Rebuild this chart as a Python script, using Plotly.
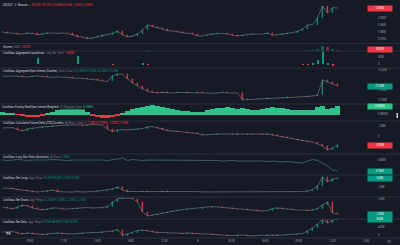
import plotly.graph_objects as go
from plotly.subplots import make_subplots

W, H = 400, 245
BG = "#161a25"
SEP = "#2a2e39"
TXT = "#d1d4dc"
GREY = "#787b86"
UP = "#089981"
DN = "#f23645"
LINE = "#8f939c"
FUND_UP = "#2bc48a"
LSR_COL = "#4d8f8a"
FONT = "Roboto"
FS = 2.6

# ---------------- data ----------------
time_labels = ["09:00", "12:00", "15:00", "18:00", "21:00", "8", "03:00", "06:00", "09:00", "12:00", "15:00"]
time_tick_pos = [5.5, 12.22, 18.94, 25.66, 32.38, 39.1, 45.82, 52.54, 59.26, 65.98, 72.7]

price_open0 = 0.5797
price_close = [
    0.5800, 0.5793, 0.5793, 0.5786, 0.5786, 0.5793, 0.5790, 0.5782, 0.5786, 0.5793,
    0.5793, 0.5790, 0.5793, 0.5790, 0.5779, 0.5768, 0.5762, 0.5754, 0.5758, 0.5768,
    0.5776, 0.5782, 0.5790, 0.5807, 0.5779, 0.5765, 0.5772, 0.5786, 0.5814, 0.5849,
    0.5838, 0.5828, 0.5818, 0.5810, 0.5807, 0.5800, 0.5793, 0.5790, 0.5786, 0.5772,
    0.5772, 0.5782, 0.5786, 0.5790, 0.5790, 0.5786, 0.5776, 0.5772, 0.5779, 0.5782,
    0.5786, 0.5786, 0.5786, 0.5793, 0.5776, 0.5782, 0.5786, 0.5793, 0.5796, 0.5804,
    0.5821, 0.5849, 0.5852, 0.5898, 0.5982, 0.5933, 0.5971, 0.5968]

volume_m = [
    0.12, 0.08, 0.06, 0.07, 0.05, 0.06, 0.05, 0.09, 0.06, 0.05,
    0.05, 0.04, 0.05, 0.04, 0.07, 0.09, 0.08, 0.10, 0.07, 0.08,
    0.06, 0.07, 0.09, 0.15, 0.12, 0.10, 0.08, 0.07, 0.13, 0.20,
    0.14, 0.10, 0.08, 0.06, 0.05, 0.05, 0.04, 0.05, 0.05, 0.07,
    0.06, 0.06, 0.05, 0.04, 0.05, 0.05, 0.06, 0.06, 0.05, 0.05,
    0.04, 0.05, 0.05, 0.05, 0.07, 0.05, 0.05, 0.06, 0.06, 0.08,
    0.12, 0.25, 0.22, 0.45, 0.95, 0.70, 0.40, 0.30]

liq_short_k = [
    0, 0, 0, 0, 0, 0, 0, 480, 0, 0,
    0, 0, 0, 0, 0, 650, 0, 0, 0, 0,
    0, 0, 0, 0, 0, 0, 0, 0, 30, 0,
    0, 0, 0, 0, 0, 0, 0, 0, 0, 0,
    0, 0, 0, 0, 0, 0, 0, 0, 0, 0,
    0, 0, 0, 0, 0, 0, 0, 0, 0, 0,
    0, 0, 60, 300, 1400, 80, 0, 0]
liq_long_k = [
    0, 0, 0, 0, 0, 0, 0, 0, 0, 0,
    0, 0, 0, 0, 0, 0, 0, 0, 0, 0,
    0, 0, 40, 0, 0, 0, 0, 0, 0, 60,
    0, 0, 0, 0, 0, 0, 0, 0, 0, 0,
    0, 0, 0, 0, 0, 0, 0, 0, 0, 0,
    0, 0, 0, 0, 0, 0, 0, 0, 0, 0,
    40, 70, 0, 0, 0, 0, 90, 0]

oi_open0 = 72.70
oi_close = [
    72.70, 72.68, 72.70, 72.68, 72.65, 72.65, 72.68, 72.70, 72.68, 72.65,
    72.63, 72.65, 72.65, 72.63, 72.60, 72.60, 72.58, 72.55, 72.53, 72.50,
    72.45, 72.43, 72.70, 72.80, 72.78, 72.55, 72.35, 72.20, 72.05, 71.93,
    71.88, 71.85, 71.88, 71.85, 71.85, 71.88, 71.88, 71.85, 71.85, 71.88,
    71.85, 71.85, 71.83, 71.85, 71.88, 71.85, 71.85, 71.85, 71.50, 71.53,
    71.53, 71.55, 71.55, 71.58, 71.58, 71.60, 71.60, 71.63, 71.63, 71.65,
    71.65, 71.68, 71.70, 71.75, 72.50, 72.40, 72.30, 72.20]

funding_pct = [
    0.0028, 0.0020, 0.0010, -0.0003, -0.0015, -0.0025, -0.0028, -0.0020, -0.0007, 0.0010,
    0.0030, 0.0045, 0.0055, 0.0065, 0.0075, 0.0070, 0.0055, 0.0025, -0.0010, -0.0025,
    -0.0035, -0.0038, -0.0025, -0.0008, 0.0015, 0.0035, 0.0055, 0.0070, 0.0080, 0.0090,
    0.0095, 0.0090, 0.0080, 0.0070, 0.0055, 0.0045, 0.0040, 0.0035, 0.0030, 0.0025,
    0.0030, 0.0045, 0.0055, 0.0065, 0.0070, 0.0075, 0.0070, 0.0060, 0.0065, 0.0060,
    0.0050, 0.0045, 0.0055, 0.0070, 0.0075, 0.0065, 0.0065, 0.0055, 0.0045, 0.0045,
    0.0050, 0.0045, 0.0050, 0.0075, 0.0085, 0.0060, 0.0070, 0.0085]

cvd_open0 = 0.80
cvd_close_m = [
    0.80, 0.80, 0.85, 0.65, 0.50, 0.70, 0.80, 0.85, 0.90, 0.95,
    1.00, 1.05, 1.05, 1.10, 1.10, 1.10, 1.05, 1.10, 1.15, 1.15,
    1.10, 0.70, 0.45, 0.60, 0.65, 0.60, 0.65, 0.70, 0.75, 0.90,
    0.95, 0.80, 0.65, 0.55, 0.50, 0.45, 0.40, 0.35, 0.30, 0.25,
    0.10, 0.15, 0.15, 0.20, 0.20, 0.20, 0.15, 0.20, 0.20, 0.15,
    0.20, 0.20, 0.15, 0.20, 0.10, 0.00, -0.05, -0.20, -0.25, -0.40,
    -0.45, -0.55, -0.60, -0.80, -1.00, -1.40, -1.20, -0.90]

long_short_ratio = [
    0.800, 0.798, 0.800, 0.802, 0.800, 0.798, 0.800, 0.800, 0.798, 0.800,
    0.802, 0.800, 0.800, 0.798, 0.800, 0.800, 0.802, 0.800, 0.800, 0.800,
    0.800, 0.798, 0.800, 0.804, 0.808, 0.798, 0.802, 0.800, 0.798, 0.800,
    0.800, 0.800, 0.800, 0.798, 0.800, 0.800, 0.798, 0.798, 0.800, 0.800,
    0.798, 0.798, 0.800, 0.798, 0.796, 0.798, 0.798, 0.796, 0.796, 0.798,
    0.796, 0.796, 0.796, 0.794, 0.796, 0.794, 0.792, 0.794, 0.792, 0.790,
    0.788, 0.796, 0.802, 0.798, 0.788, 0.776, 0.760, 0.756]

net_longs_open0 = 1.6
net_longs_k = [
    1.6, 1.6, 1.4, 1.0, 0.8, 0.4, 0.2, 0.0, 0.2, 0.4,
    0.8, 0.2, 0.0, 0.0, 0.0, 0.2, 0.0, 0.0, 0.2, 0.4,
    0.6, 0.8, 1.2, 2.0, 0.8, 0.2, 0.2, 0.2, 0.4, 0.2,
    0.2, 0.2, 0.4, 0.2, 0.2, 0.2, 0.2, 0.2, 0.2, 0.2,
    0.0, 0.0, 0.0, 0.0, 0.0, 0.0, 0.0, 0.0, 0.0, 0.0,
    0.0, 0.0, 0.0, 0.0, 0.0, 0.0, 0.0, 0.0, 0.2, 0.2,
    0.2, 0.4, 1.0, 2.4, 6.0, 4.2, 5.2, 5.6]

net_shorts_open0 = 1.0
net_shorts_k = [
    1.0, 0.5, 0.0, 1.0, 2.0, 1.5, 0.5, 0.0, -0.5, 0.0,
    0.5, 0.5, 0.0, 0.0, 0.25, 0.5, 0.75, 0.75, 0.5, 0.5,
    0.75, 1.25, 3.5, 5.25, 5.5, 5.5, 5.25, 3.5, -1.5, -3.5,
    -3.0, -2.5, -2.0, -1.5, -1.0, -0.5, -0.25, 0.0, 0.25, 0.25,
    0.5, 0.75, 1.25, 1.0, 0.75, 0.5, 0.25, 0.0, 0.0, -0.25,
    -0.5, -0.75, -1.0, -0.75, 0.25, 0.5, 0.25, 0.0, -0.5, -0.5,
    -0.5, -0.75, -0.5, 0.25, 2.0, 3.5, -2.0, -2.5]

net_delta_open0 = 1.5
net_delta_k = [
    1.5, 1.5, 1.75, 1.0, 0.5, 1.0, 0.75, 0.5, 0.25, 0.5,
    0.75, 1.0, 0.75, 0.5, 0.5, 0.75, 1.0, 1.0, 1.25, 1.25,
    1.5, 1.5, 2.0, 2.75, -0.25, 0.5, 1.25, 2.25, 2.5, 2.0,
    1.5, 1.25, 1.25, 1.0, 1.0, 1.0, 0.75, 1.0, 0.75, 0.5,
    0.5, 0.5, 0.25, 0.0, 0.0, -0.25, -0.25, 0.0, 0.0, -0.25,
    -0.5, -0.25, -0.25, 0.0, -0.25, 0.0, 0.0, 0.25, 0.25, 0.5,
    0.75, 2.0, 3.5, 5.5, 7.75, 6.0, 7.5, 8.0]

# ---------------- layout constants ----------------
PANES = [(0, 43.5), (43.5, 51), (51, 68), (68, 104), (104, 121), (121, 154),
         (154, 175), (175, 197), (197, 219), (219, 238)]
X_END = 370
NP = len(PANES)

fig = make_subplots(rows=NP, cols=1, shared_xaxes=True, vertical_spacing=0)
x = list(range(len(price_close)))


def ppy(p):
    return 1 - p / H


def ppx(p):
    return p / W


def add_candles(row, o0, closes):
    op = [o0] + closes[:-1]
    cols = [UP if c > o else (DN if c < o else "rgba(0,0,0,0)") for o, c in zip(op, closes)]
    fig.add_trace(go.Scatter(x=x, y=closes, mode="lines", line=dict(color=LINE, width=0.5),
                             hoverinfo="skip"), row=row, col=1)
    fig.add_trace(go.Bar(x=x, y=[c - o for o, c in zip(op, closes)], base=op, width=0.35,
                         marker=dict(color=cols, line=dict(color=cols, width=0.3))), row=row, col=1)
    return op


p_open = add_candles(1, price_open0, price_close)

vol_cols = ["rgba(8,153,129,0.5)" if c >= o else "rgba(242,54,69,0.5)" for o, c in zip(p_open, price_close)]
fig.add_trace(go.Bar(x=x, y=volume_m, width=0.6, marker=dict(color=vol_cols, line=dict(width=0))), row=2, col=1)

fig.add_trace(go.Bar(x=x, y=liq_short_k, width=0.4, marker=dict(color=UP, line=dict(width=0))), row=3, col=1)
fig.add_trace(go.Bar(x=x, y=[-v for v in liq_long_k], width=0.4, marker=dict(color=DN, line=dict(width=0))), row=3, col=1)

oi_open = add_candles(4, oi_open0, oi_close)

fund_cols = [FUND_UP if v >= 0 else DN for v in funding_pct]
fig.add_trace(go.Bar(x=x, y=funding_pct, width=1.0, marker=dict(color=fund_cols, line=dict(width=0))), row=5, col=1)

cvd_open = add_candles(6, cvd_open0, cvd_close_m)

fig.add_trace(go.Scatter(x=x, y=long_short_ratio, mode="lines", line=dict(color=LSR_COL, width=0.6)), row=7, col=1)

nl_open = add_candles(8, net_longs_open0, net_longs_k)
ns_open = add_candles(9, net_shorts_open0, net_shorts_k)
nd_open = add_candles(10, net_delta_open0, net_delta_k)

YAX = [
    dict(range=[0.57195, 0.6024], tickvals=[0.575, 0.58, 0.585, 0.59], tickformat=".4f"),
    dict(range=[0, 1.2], tickvals=[]),
    dict(range=[-300, 1000], tickvals=[0, 500], ticktext=["0", "500K"]),
    dict(range=[71.3, 73.1], tickvals=[71.5, 72.0, 73.0], ticktext=["71.50M", "72.00M", "73.00M"]),
    dict(range=[-0.0065, 0.0105], tickvals=[0], ticktext=["0.0000%"]),
    dict(range=[-1.8, 1.5], tickvals=[0, 1.0], ticktext=["0", "1.00M"]),
    dict(range=[0.74, 0.824], tickvals=[0.8], ticktext=["0.8000"]),
    dict(range=[-2.0, 6.8], tickvals=[2.0], ticktext=["2.00K"]),
    dict(range=[-5.0, 6.0], tickvals=[5.0], ticktext=["5.00K"]),
    dict(range=[-1.5, 8.0], tickvals=[0, 4.0], ticktext=["0", "4.00K"]),
]

for i, (top, bot) in enumerate(PANES):
    k = "" if i == 0 else str(i + 1)
    ya = dict(domain=[ppy(bot), ppy(top)], side="right", showgrid=False, zeroline=False,
              showline=False, ticks="", tickfont=dict(size=FS, color="#a3a6af", family=FONT),
              ticklabelstandoff=7, fixedrange=True)
    ya.update(YAX[i])
    fig.layout["yaxis" + k].update(ya)
    xa = dict(domain=[0, X_END / W], range=[-0.5, 73.5], showgrid=False, zeroline=False,
              showline=False, ticks="", showticklabels=False, fixedrange=True)
    if i == NP - 1:
        xa.update(showticklabels=True, tickvals=time_tick_pos, ticktext=time_labels,
                  tickfont=dict(size=FS, color="#a3a6af", family=FONT))
    fig.layout["xaxis" + k].update(xa)

shapes = []
for top, bot in PANES:
    shapes.append(dict(type="line", xref="paper", yref="paper", x0=0, x1=1, y0=ppy(bot), y1=ppy(bot),
                       line=dict(color=SEP, width=1)))
shapes.append(dict(type="rect", xref="paper", yref="paper", x0=ppx(396.5), x1=ppx(398),
                   y0=ppy(118), y1=ppy(113), fillcolor="#c8cad0", line=dict(width=0)))

ann = []


def span(t, c):
    return "<span style='color:%s'>%s</span>" % (c, t)


def legend(yp, parts, bg=None, xp=2):
    text = "  ".join(span(t, c) for t, c in parts)
    ann.append(dict(x=ppx(xp), y=ppy(yp), xref="paper", yref="paper", xanchor="left", yanchor="middle",
                    text=text, showarrow=False, font=dict(size=FS, color=TXT, family=FONT),
                    bgcolor=bg if bg else "rgba(0,0,0,0)", borderpad=0))


def ohlc_text(o, c, fmt):
    return "O%s H%s L%s C%s" % (fmt(o), fmt(max(o, c)), fmt(min(o, c)), fmt(c))


fP = lambda v: "%.4f" % v
fM = lambda v: ("%.2fM" % v).replace("-", "−")
fK = lambda v: ("%.2fK" % v).replace("-", "−")

chg = price_close[-1] - p_open[-1]
legend(5, [("SQUSDT · 5 · Binance", TXT), ("●", UP),
           (ohlc_text(p_open[-1], price_close[-1], fP) + " %s (%s%%)" % (
               ("%+.4f" % chg).replace("-", "−"), ("%+.2f" % (chg / p_open[-1] * 100)).replace("-", "−")), DN)])
legend(46.5, [("Volume", TXT), ("SMA 9", GREY), ("%.1fK" % (volume_m[-1] * 1000), DN)])
legend(53.5, [("CoinGlass: Aggregated Liquidations", TXT), ("Long  Mc  Short", GREY),
              ("%.3fM" % (liq_short_k[64] / 1000), DN)])
legend(71, [("CoinGlass: Aggregated Open Interest (Candles)", TXT), ("Stock  Close", GREY),
            (ohlc_text(oi_open[-1], oi_close[-1], fM), UP)])
legend(106.5, [("CoinGlass: Funding Rate(Open Interest Weighted)", TXT), ("OI-Weighted  Close", GREY),
               ("%.4f%%" % funding_pct[-1], FUND_UP)], bg="rgba(22,26,37,0.85)", xp=1)
legend(123, [("CoinGlass: Cumulative Volume Delta (CVD)(Candles)", TXT), ("All Perps  Close", GREY),
             (ohlc_text(cvd_open[-1], cvd_close_m[-1], fM), DN)])
legend(157, [("CoinGlass: Long Short Ratio (Accounts)", TXT), ("All Perps", GREY),
             ("%.4f" % long_short_ratio[-1], UP)])
legend(178, [("CoinGlass: Net Longs", TXT), ("Aggr. Perps", GREY),
             (ohlc_text(nl_open[-1], net_longs_k[-1], fK), UP)])
legend(199.5, [("CoinGlass: Net Shorts", TXT), ("Aggr. Perps", GREY),
               (ohlc_text(ns_open[-1], net_shorts_k[-1], fK), UP)])
legend(222, [("CoinGlass: Net Delta", TXT), ("Aggr. Perps", GREY),
             (ohlc_text(nd_open[-1], net_delta_k[-1], fK), UP)])

ann.append(dict(x=ppx(4), y=ppy(233.5), xref="paper", yref="paper", xanchor="left", yanchor="middle",
                text="<b>TV</b>", showarrow=False, font=dict(size=3.5, color="#e8e8ea", family=FONT)))
ann.append(dict(x=ppx(385), y=ppy(240.5), xref="paper", yref="paper", xanchor="left", yanchor="middle",
                text="⚙", showarrow=False, font=dict(size=5, color=GREY, family=FONT)))

# value tags on the price scale
TAGS = [
    (1, price_close[-1], "%.4f" % price_close[-1], DN),
    (2, volume_m[-1], "%.1fK" % (volume_m[-1] * 1000), DN),
    (4, oi_close[-1], fM(oi_close[-1]), UP),
    (5, funding_pct[-1], "%.4f%%" % funding_pct[-1], FUND_UP),
    (6, cvd_close_m[-1], fM(cvd_close_m[-1]), DN),
    (7, long_short_ratio[-1], "%.4f" % long_short_ratio[-1], UP),
    (8, net_longs_k[-1], fK(net_longs_k[-1]), UP),
    (9, net_shorts_k[-1], fK(net_shorts_k[-1]), UP),
    (10, net_delta_k[-1], fK(net_delta_k[-1]), UP),
]
for row, val, txt, col in TAGS:
    yr = "y" if row == 1 else "y%d" % row
    ann.append(dict(x=ppx(367), y=val, xref="paper", yref=yr, xanchor="left", yanchor="middle",
                    text=txt, showarrow=False, font=dict(size=FS, color="#ffffff", family=FONT),
                    bgcolor=col, width=24, height=4.5, borderpad=0))

fig.update_layout(width=W, height=H, margin=dict(l=0, r=0, t=0, b=0),
                  paper_bgcolor=BG, plot_bgcolor=BG, showlegend=False,
                  barmode="overlay", bargap=0, shapes=shapes, annotations=ann,
                  font=dict(family=FONT, size=FS, color=TXT))

fig.write_html("out.html")
